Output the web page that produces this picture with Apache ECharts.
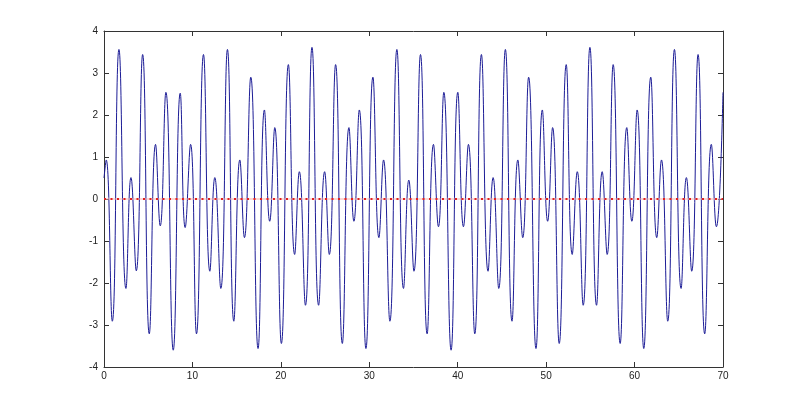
<!DOCTYPE html>
<html>
<head>
<meta charset="utf-8">
<script src="https://cdn.jsdelivr.net/npm/echarts@6/dist/echarts.min.js"></script>
<style>
  html, body { margin: 0; padding: 0; background: #fff; }
  #chart { width: 800px; height: 413px; }
</style>
</head>
<body>
<div id="chart"></div>
<script>
// extrema of the blue curve
var waveX = [0, 0.25, 0.94, 1.69, 2.48, 3.05, 3.65, 4.37, 5.12, 5.83, 6.36, 7.0, 7.83, 8.62, 9.18, 9.79,
  10.46, 11.25, 11.97, 12.53, 13.21, 13.96, 14.68, 15.36, 15.88, 16.6, 17.42, 18.14, 18.74, 19.31,
  20.06, 20.85, 21.56, 22.09, 22.78, 23.52, 24.27, 24.95, 25.48, 26.19, 26.95, 27.7, 28.26, 28.87,
  29.62, 30.41, 31.09, 31.61, 32.33, 33.12, 33.87, 34.47, 35.05, 35.79, 36.54, 37.26, 37.82, 38.43,
  39.25, 40.01, 40.65, 41.21, 41.93, 42.68, 43.43, 44.0, 44.64, 45.39, 46.14, 46.8, 47.35, 48.02,
  48.85, 49.57, 50.17, 50.73, 51.48, 52.27, 52.95, 53.52, 54.19, 54.95, 55.7, 56.34, 56.9, 57.58,
  58.37, 59.12, 59.69, 60.29, 61.04, 61.83, 62.51, 63.04, 63.75, 64.51, 65.26, 65.86, 66.46, 67.18,
  67.93, 68.68, 69.25, 70]
var waveY = [0.5, 0.93, -2.91, 3.56, -2.13, 0.51, -1.71, 3.44, -3.21, 1.30, -0.64, 2.54, -3.60, 2.52, -0.68, 1.30,
  -3.21, 3.44, -1.72, 0.51, -2.13, 3.56, -2.91, 0.93, -0.92, 2.90, -3.56, 2.12, -0.53, 1.70,
  -3.44, 3.20, -1.32, 0.65, -2.53, 3.61, -2.53, 0.65, -1.32, 3.20, -3.44, 1.70, -0.53, 2.12,
  -3.56, 2.90, -0.92, 0.93, -2.91, 3.56, -2.13, 0.45, -1.72, 3.44, -3.21, 1.30, -0.66, 2.54,
  -3.60, 2.54, -0.66, 1.30, -3.21, 3.44, -1.72, 0.51, -2.13, 3.56, -2.91, 0.93, -0.92, 2.90,
  -3.56, 2.12, -0.53, 1.70, -3.44, 3.20, -1.32, 0.65, -2.53, 3.61, -2.53, 0.65, -1.32, 3.20,
  -3.44, 1.70, -0.53, 2.12, -3.56, 2.90, -0.92, 0.93, -2.91, 3.56, -2.13, 0.51, -1.72, 3.44,
  -3.21, 1.30, -0.66, 2.54]
// red zero line
var zeroX = [0, 70]
var zeroY = [0, 0]

var chart = echarts.init(document.getElementById('chart'))

function pairs(xs, ys) {
  return xs.map(function (x, i) { return [x, ys[i]] })
}

var axisColor = '#333'
var labelFont = { fontFamily: 'Liberation Sans', fontSize: 10, color: '#222' }

function baseAxis(extra) {
  return Object.assign({
    type: 'value',
    axisLine: { show: true, onZero: false, lineStyle: { color: axisColor, width: 1 } },
    axisTick: { show: true, inside: true, length: 5, lineStyle: { color: axisColor } },
    splitLine: { show: false }
  }, extra)
}

var option = {
  backgroundColor: '#fff',
  animation: false,
  grid: { left: 104, right: 77, top: 31, bottom: 46 },
  xAxis: [
    baseAxis({
      position: 'bottom', min: 0, max: 70, interval: 10,
      axisLabel: Object.assign({ margin: 4 }, labelFont)
    }),
    baseAxis({
      position: 'top', min: 0, max: 70, interval: 10,
      axisLabel: { show: false }
    })
  ],
  yAxis: [
    baseAxis({
      position: 'left', min: -4, max: 4, interval: 1,
      axisLabel: Object.assign({ margin: 6 }, labelFont)
    }),
    baseAxis({
      position: 'right', min: -4, max: 4, interval: 1,
      axisLabel: { show: false }
    })
  ],
  series: [
    {
      type: 'line',
      data: pairs(zeroX, zeroY),
      showSymbol: false,
      lineStyle: { color: '#f5b0b0', width: 1 },
      z: 3
    },
    {
      type: 'line',
      data: pairs(zeroX, zeroY),
      showSymbol: false,
      lineStyle: { color: '#e02020', width: 2, type: [2, 4.5] },
      z: 4
    },
    {
      type: 'line',
      data: pairs(waveX, waveY),
      smooth: 0.5,
      showSymbol: false,
      lineStyle: { color: '#1c1c96', width: 1 },
      z: 2
    }
  ]
}

chart.setOption(option)
</script>
</body>
</html>
